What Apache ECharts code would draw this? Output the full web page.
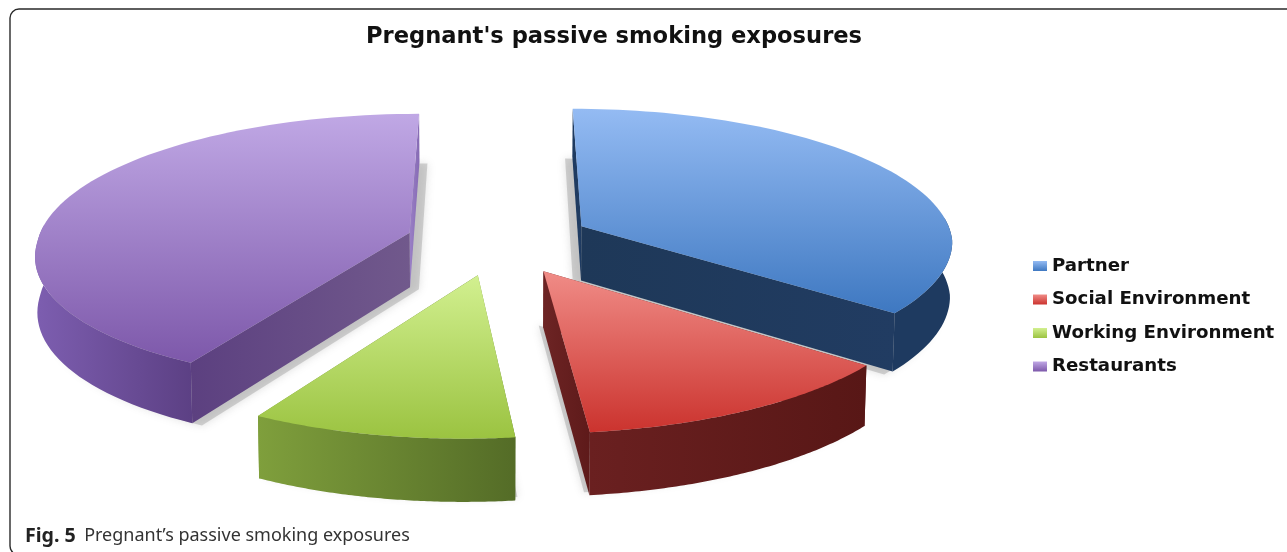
<!DOCTYPE html>
<html><head><meta charset="utf-8">
<style>html,body{margin:0;padding:0;background:#fff}#c{width:1287px;height:552px}</style>
<script src="https://cdn.jsdelivr.net/npm/echarts@6/dist/echarts.min.js"></script>
</head><body><div id="c"></div>
<script>
const titleText = "Pregnant's passive smoking exposures";
const categories = ['Partner', 'Social Environment', 'Working Environment', 'Restaurants'];
const shares = [35.5, 12.6, 9.9, 42];
const topColors = [['#94BBF3','#3E78C1'],['#F08C87','#CB332E'],['#D2F090','#9BC341'],['#C0A8E5','#7D58AA']];
const arcColors = [['#1E3A60','#1E3A60'],['#6A2020','#581716'],['#7F9F3C','#546C27'],['#7D5EB0','#5C4084']];
const startWallColors = [['#1E3A60','#203C62'],['#6F2626','#601C1C'],['#7F9F3C','#546C27'],['#5C4080','#71598C']];
const endWallColors = [['#1E3858','#213C62'],['#6D2424','#5E1A1A'],['#7F9F3C','#546C27'],['#9A80C6','#866AB4']];
const drawOrder = [3, 0, 1, 2];

const cx = 499, cy = 241, R = 372, Ry = 135, k = 0.12, D = 55, explode = 0.25, shear = 12, steps = 80;
const total = shares.reduce((a, b) => a + b, 0);
function project(X, Y, z) {
  const s = 1 / (1 - k * Y);
  return [cx + R * X * s * (1 - 0.005 * z) - shear * Math.max(Y, 0),
          cy + Ry * Y * s + D * z * (1 + 0.12 * Y)];
}
function grad(x0, y0, x1, y1, c) {
  return new echarts.graphic.LinearGradient(x0, y0, x1, y1, [{offset:0,color:c[0]},{offset:1,color:c[1]}]);
}
function renderSlice(idx) {
  return function () {
    let before = 0;
    for (let i = 0; i < idx; i++) before += shares[i];
    const a0 = before / total * 2 * Math.PI;
    const a1 = (before + shares[idx]) / total * 2 * Math.PI;
    const mid = (a0 + a1) / 2;
    const rim = (e, r, z, frontOnly) => {
      const ox = e * Math.sin(mid), oy = -e * Math.cos(mid), pts = [];
      for (let i = 0; i <= steps; i++) {
        const a = a0 + (a1 - a0) * i / steps;
        if (frontOnly && Math.cos(a) > 0.08) continue;
        pts.push(project(ox + r * Math.sin(a), oy - r * Math.cos(a), z));
      }
      return { apex: project(ox, oy, z), pts };
    };
    const t = rim(explode, 1, 0), b = rim(explode, 1, 1);
    const tf = rim(explode, 1, 0, true), bf = rim(explode, 1, 1, true);
    const sh = rim(explode * 0.9, 1.0, 1.02);
    const walls = [
      { pts: [t.apex, t.pts[0], b.pts[0], b.apex], col: startWallColors[idx] },
      { pts: [t.apex, t.pts[steps], b.pts[steps], b.apex], col: endWallColors[idx] },
      { pts: tf.pts.concat(bf.pts.slice().reverse()), col: arcColors[idx] }
    ];
    const meanY = w => w.pts.reduce((s, p) => s + p[1], 0) / w.pts.length;
    walls.sort((p, q) => meanY(p) - meanY(q));
    const children = [{
      type: 'polygon', shape: { points: [sh.apex].concat(sh.pts) },
      style: { fill: 'rgba(150,150,150,0.4)', shadowBlur: 9, shadowColor: 'rgba(120,120,120,0.6)' }
    }];
    walls.forEach(w => children.push({
      type: 'polygon', shape: { points: w.pts },
      style: { fill: grad(0, 0, 1, 0, w.col) }
    }));
    children.push({
      type: 'polygon', shape: { points: [t.apex].concat(t.pts) },
      style: { fill: grad(0, 0, 0, 1, topColors[idx]) }
    });
    return { type: 'group', children };
  };
}
const chart = echarts.init(document.getElementById('c'), null, { renderer: 'canvas' });
chart.setOption({
  animation: false,
  backgroundColor: '#fff',
  title: { text: titleText, left: 366, top: 26, padding: 0,
    textStyle: { fontFamily: 'DejaVu Sans', fontWeight: 'bold', fontSize: 22.6, color: '#111' } },
  legend: { data: categories, orient: 'vertical', left: 1033, top: 256, padding: 0, itemGap: 13.5,
    itemWidth: 14, itemHeight: 10, icon: 'rect', selectedMode: false, itemStyle: { borderWidth: 0 },
    textStyle: { fontFamily: 'DejaVu Sans', fontWeight: 'bold', fontSize: 18.2, color: '#111', lineHeight: 20 } },
  graphic: [
    { type: 'rect', shape: { x: 10, y: 9, width: 1400, height: 546, r: 9 }, silent: true,
      style: { fill: 'none', stroke: '#2a2a2a', lineWidth: 1.4 } },
    { type: 'text', left: 25, top: 526, silent: true, style: {
        text: '{b|Fig. 5} {n|Pregnant\u2019s passive smoking exposures}',
        rich: { b: { fontFamily: 'Noto Sans', fontWeight: 'bold', fontSize: 19.6, fill: '#222', padding: [0, 5, 0, 0] },
                n: { fontFamily: 'Noto Sans', fontSize: 18, fill: '#333' } } } }
  ],
  series: drawOrder.map(i => ({
    type: 'custom', name: categories[i], coordinateSystem: 'none',
    data: [shares[i]], renderItem: renderSlice(i), silent: true,
    itemStyle: { color: grad(0, 0, 0, 1, topColors[i]) }
  }))
});
</script></body></html>
